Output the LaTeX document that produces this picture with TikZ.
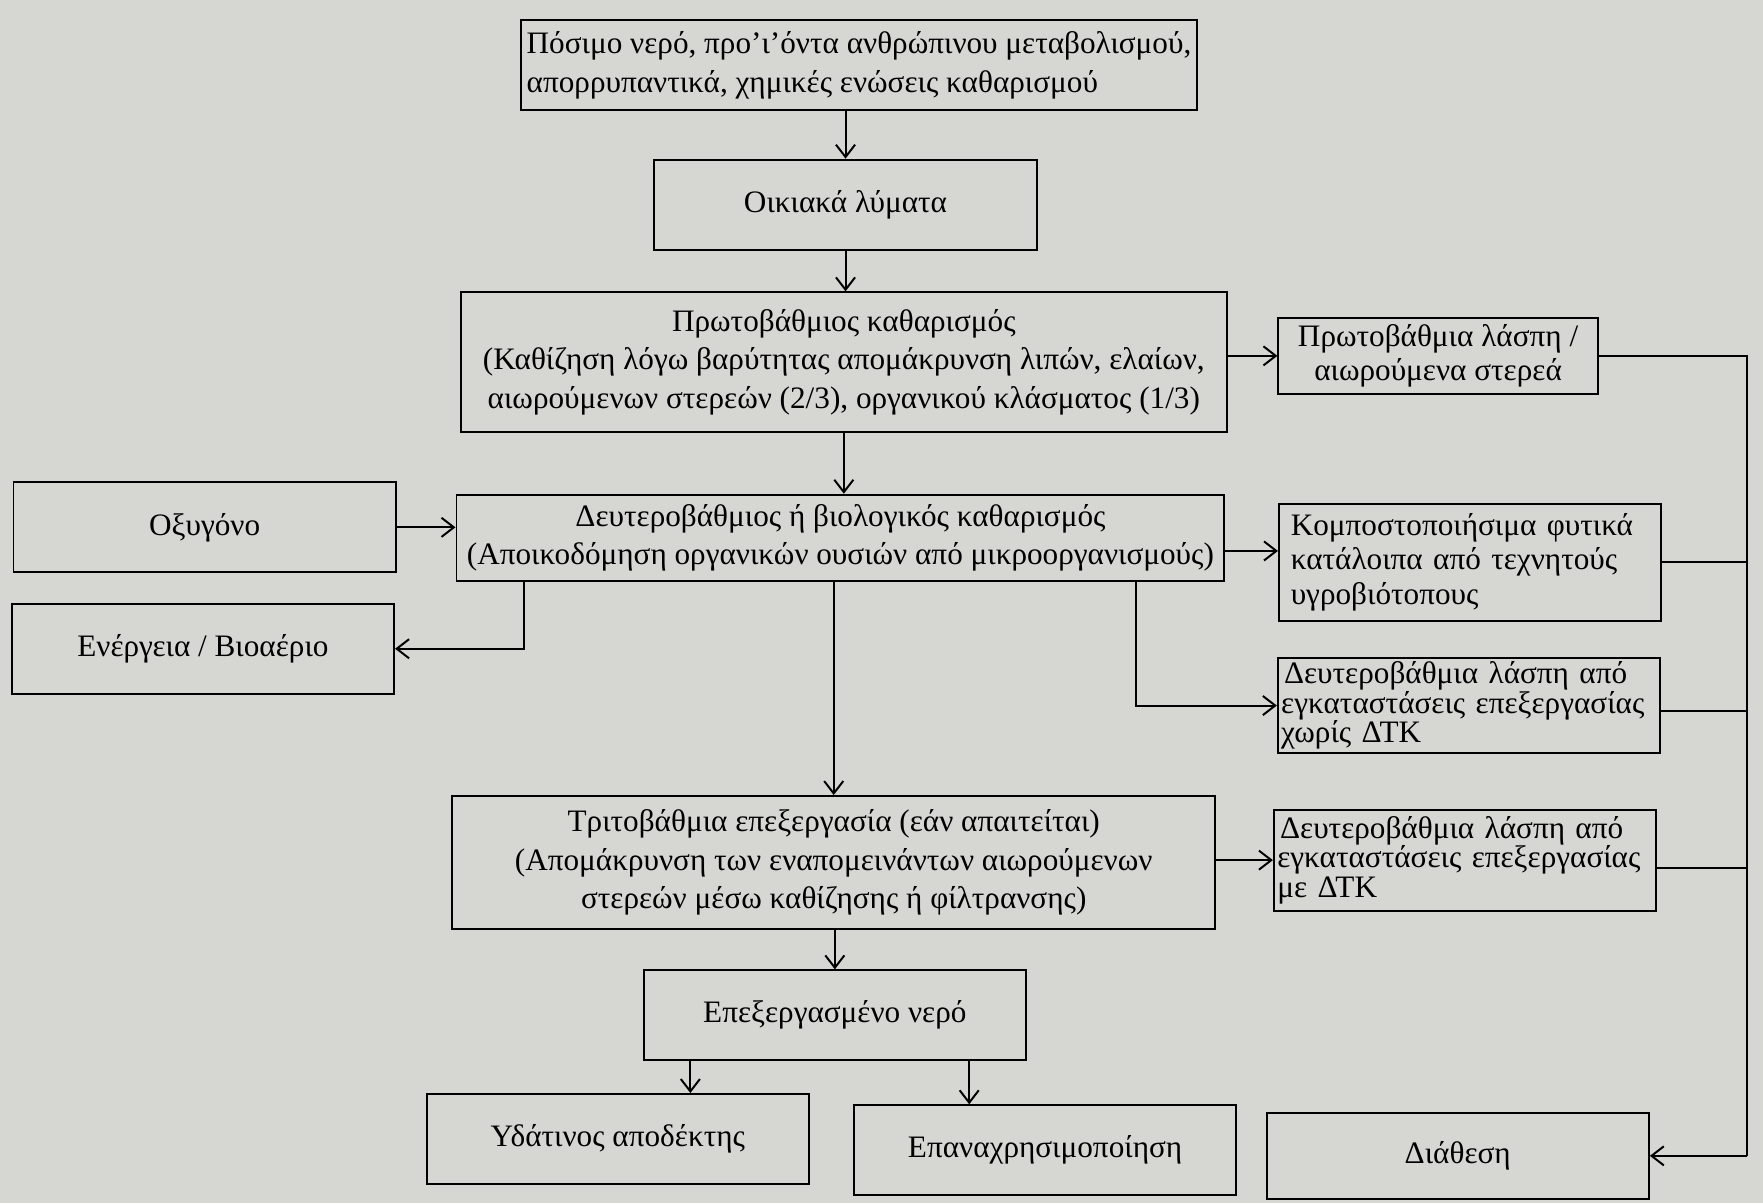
\documentclass[tikz,border=0pt]{standalone}
\usepackage{fontspec}
\setmainfont{Liberation Serif}
\usepackage{xcolor}
\usetikzlibrary{calc, arrows.meta}

\definecolor{paper}{RGB}{214,214,211}

\begin{document}
\begin{tikzpicture}[x=0.2mm, y=-0.2mm, line width=1pt,
    >={Straight Barb[length=2.2mm, width=3.4mm]},
    box/.style={draw, fill=paper, inner sep=1mm, align=center,
                font=\fontsize{15.8}{19.5}\selectfont},
    smallbox/.style={box, minimum width=68mm, minimum height=16mm},
    sidebox/.style={box, text width=66.8mm, inner xsep=0.6mm, inner ysep=0.4mm, align=left,
                font=\fontsize{15.8}{15}\selectfont}]

        % ---------- Background ----------
        \useasboundingbox (0,0) rectangle (1568,1070);
        \fill[paper] (0,0) rectangle (1568,1070);

        % ---------- Main line ----------
        \node[box, minimum width=120mm, minimum height=16mm, align=left] (input) at (764,58)
            {Πόσιμο νερό, προ'ι'όντα ανθρώπινου μεταβολισμού,\\ απορρυπαντικά, χημικές ενώσεις καθαρισμού};
        \node[smallbox] (domestic) at (752,182) {Οικιακά λύματα};
        \node[box, minimum width=136.2mm, minimum height=24.8mm] (primary) at (750.5,322)
            {Πρωτοβάθμιος καθαρισμός\\ (Καθίζηση λόγω βαρύτητας απομάκρυνση λιπών, ελαίων,\\ αιωρούμενων στερεών (2/3), οργανικού κλάσματος (1/3)};
        \node[box, minimum width=136.6mm, minimum height=15.4mm] (secondary) at (747.5,478.5)
            {Δευτεροβάθμιος ή βιολογικός καθαρισμός\\ (Αποικοδόμηση οργανικών ουσιών από μικροοργανισμούς)};
        \node[box, minimum width=135.8mm, minimum height=23.6mm] (tertiary) at (741.5,767)
            {Τριτοβάθμια επεξεργασία (εάν απαιτείται)\\ (Απομάκρυνση των εναπομεινάντων αιωρούμενων\\ στερεών μέσω καθίζησης ή φίλτρανσης)};
        \node[smallbox] (treated) at (742.5,903) {Επεξεργασμένο νερό};
        \node[smallbox] (receiver) at (549.5,1013) {Υδάτινος αποδέκτης};
        \node[smallbox] (reuse) at (929.5,1023) {Επαναχρησιμοποίηση};

        % ---------- Left side ----------
        \node[smallbox] (oxygen) at (182,469) {Οξυγόνο};
        \node[smallbox] (energy) at (180.5,577) {Ενέργεια / Βιοαέριο};

        % ---------- Right side ----------
        \node[box, minimum width=56.8mm, minimum height=13.4mm, font=\fontsize{15.8}{17}\selectfont] (sludgeA) at (1279,316.5)
            {Πρωτοβάθμια λάσπη /\\ αιωρούμενα στερεά};
        \node[sidebox, minimum height=20.8mm, font=\fontsize{15.8}{17.5}\selectfont] (compost) at (1307.5,500)
            {\hspace*{1.5mm}Κομποστοποιήσιμα φυτικά\\ \hspace*{1.5mm}κατάλοιπα από τεχνητούς\\ \hspace*{1.5mm}υγροβιότοπους};
        \node[sidebox, minimum height=17mm] (sludgeB) at (1306.5,627.5)
            {\hspace*{0.5mm}Δευτεροβάθμια λάσπη από\\ εγκαταστάσεις επεξεργασίας\\ χωρίς ΔΤΚ};
        \node[sidebox, minimum height=18mm] (sludgeC) at (1303,765)
            {\hspace*{0.5mm}Δευτεροβάθμια λάσπη από\\ εγκαταστάσεις επεξεργασίας\\ με ΔΤΚ};
        \node[smallbox, minimum height=15.2mm] (disposal) at (1296.5,1028) {Διάθεση};

        % ---------- Arrows down the middle ----------
        \draw[->] (input.south -| domestic.north) -- (domestic.north);
        \draw[->] (domestic.south) -- (domestic.south |- primary.north);
        \draw[->] (primary.south) -- (primary.south |- secondary.north);
        \draw[->] (secondary.south -| tertiary.north) -- (tertiary.north);
        \draw[->] (tertiary.south -| treated.north) -- (treated.north);
        \draw[->] ([xshift=-25.7mm]treated.south) -- ([xshift=-25.7mm]treated.south |- receiver.north);
        \draw[->] ([xshift=23.9mm]treated.south) -- ([xshift=23.9mm]treated.south |- reuse.north);

        % ---------- Side arrows ----------
        \draw[->] (oxygen.east) -- (oxygen.east -| secondary.west);
        \draw[->] ([xshift=-56.3mm]secondary.south) |- (energy.east);
        \draw[->] (primary.east |- sludgeA) -- (sludgeA.west);
        \draw[->] ([yshift=-2.3mm]secondary.east) -- ([yshift=-2.3mm]secondary.east -| compost.west);
        \draw[->] ([xshift=52.5mm]secondary.south) |- (sludgeB.west);
        \draw[->] (tertiary.east |- sludgeC) -- (sludgeC.west);

        % ---------- Sludge line to disposal ----------
        \coordinate (busend) at ($(disposal.east)+(17.2mm,0)$);
        \draw (sludgeA.east) -| (busend);
        \draw (compost.east) -- (compost.east -| busend);
        \draw ([yshift=-1mm]sludgeB.east) -- ([yshift=-1mm]sludgeB.east -| busend);
        \draw ([yshift=-1.4mm]sludgeC.east) -- ([yshift=-1.4mm]sludgeC.east -| busend);
        \draw[->] (busend) -- (disposal.east);

\end{tikzpicture}
\end{document}
